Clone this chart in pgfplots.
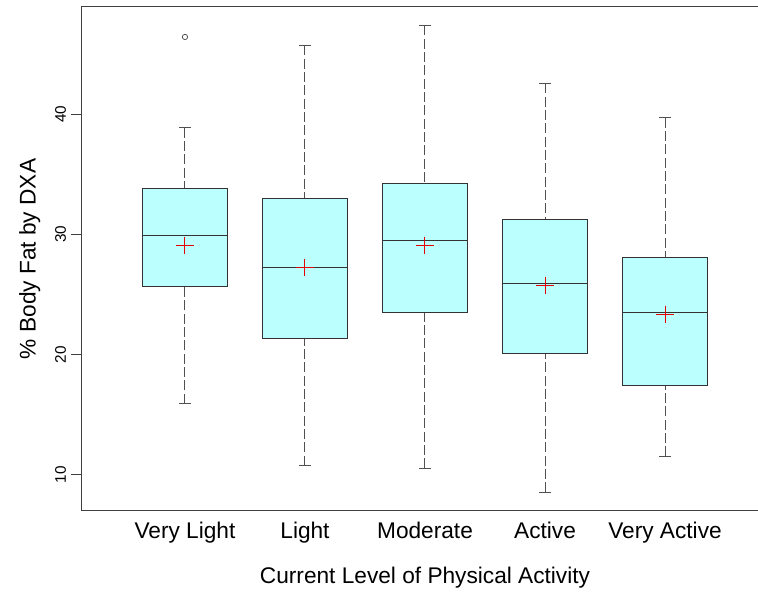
\documentclass[border=0pt]{standalone}
\usepackage{fontspec}
\setmainfont{Liberation Sans}
\usepackage{pgfplots}
\pgfplotsset{compat=1.18}
\usepgfplotslibrary{statistics}
\definecolor{boxfill}{RGB}{187,255,255}
\definecolor{boxline}{RGB}{51,51,51}
\definecolor{whisk}{RGB}{80,80,80}
\definecolor{meanred}{RGB}{230,0,0}
\pgfplotsset{
  mybox/.style={
    boxplot/draw direction=y,
    boxplot/box extend=0.71,
    boxplot/whisker extend=0.095,
    boxplot/every box/.style={draw=boxline, fill=boxfill, line width=0.75pt},
    boxplot/every median/.style={draw=boxline, line width=0.75pt},
    boxplot/every whisker/.style={draw=whisk, line width=0.75pt},
    boxplot/draw/lower whisker/.code={
      \draw[/pgfplots/boxplot/every whisker/.try, dash pattern=on 7.5pt off 2.5pt]
        (boxplot box cs:\pgfplotsboxplotvalue{lower whisker},0.5) --
        (boxplot box cs:\pgfplotsboxplotvalue{lower quartile},0.5);
      \draw[/pgfplots/boxplot/every whisker/.try, solid]
        (boxplot whisker cs:\pgfplotsboxplotvalue{lower whisker},0) --
        (boxplot whisker cs:\pgfplotsboxplotvalue{lower whisker},1);
    },
    boxplot/draw/upper whisker/.code={
      \draw[/pgfplots/boxplot/every whisker/.try, dash pattern=on 7.5pt off 2.5pt]
        (boxplot box cs:\pgfplotsboxplotvalue{upper whisker},0.5) --
        (boxplot box cs:\pgfplotsboxplotvalue{upper quartile},0.5);
      \draw[/pgfplots/boxplot/every whisker/.try, solid]
        (boxplot whisker cs:\pgfplotsboxplotvalue{upper whisker},0) --
        (boxplot whisker cs:\pgfplotsboxplotvalue{upper whisker},1);
    },
    mark=o, mark size=2pt, mark options={draw=whisk, line width=0.6pt, solid, fill=none},
  }
}
\begin{document}
\begin{tikzpicture}[x=1pt,y=1pt]
\useasboundingbox (-61.5,-63) rectangle (507,383.25);
\begin{axis}[
  at={(0,0)}, anchor=south west,
  scale only axis, width=514.5pt, height=378pt,
  xmin=0.142, xmax=5.858, ymin=7.007, ymax=48.90,
  axis line style={draw=black!75, line width=0.75pt},
  xtick={1,2,3,4,5},
  xticklabels={Very Light, Light, Moderate, Active, Very Active},
  ytick={10,20,30,40},
  tick align=outside,
  major tick length=8.25pt,
  x tick style={draw=none},
  y tick style={draw=black!75, line width=0.75pt},
  /pgf/number format/assume math mode=true,
  xticklabel style={font=\fontsize{17}{20}\selectfont, anchor=north, inner sep=0pt},
  yticklabel style={font=\fontsize{11.5}{13}\selectfont, rotate=90, anchor=south, inner sep=0pt, inner ysep=3.5pt},
  xlabel={Current Level of Physical Activity},
  ylabel={\% Body Fat by DXA},
  xlabel style={font=\fontsize{17}{20}\selectfont, at={(axis description cs:0.5,-0.1111)}, anchor=north, inner sep=0pt},
  ylabel style={font=\fontsize{17}{20}\selectfont, at={(axis description cs:-0.076,0.5)}, anchor=center, inner sep=0pt},
]
% Very Light
\addplot[mybox, boxplot prepared={draw position=1, lower whisker=15.93, lower quartile=25.69, median=29.93, upper quartile=33.80, upper whisker=38.87}]
  table[row sep=\\, y index=0] {data\\ 46.41\\};
% Light
\addplot[mybox, boxplot prepared={draw position=2, lower whisker=10.77, lower quartile=21.36, median=27.21, upper quartile=33.00, upper whisker=45.72}]
  coordinates {};
% Moderate
\addplot[mybox, boxplot prepared={draw position=3, lower whisker=10.56, lower quartile=23.49, median=29.50, upper quartile=34.19, upper whisker=47.38}]
  coordinates {};
% Active
\addplot[mybox, boxplot prepared={draw position=4, lower whisker=8.56, lower quartile=20.06, median=25.90, upper quartile=31.25, upper whisker=42.56}]
  coordinates {};
% Very Active
\addplot[mybox, boxplot prepared={draw position=5, lower whisker=11.55, lower quartile=17.42, median=23.52, upper quartile=28.10, upper whisker=39.70}]
  coordinates {};
% means
\addplot[meanred, only marks, mark=+, mark size=6.4pt, mark options={draw=meanred, line width=0.75pt}]
  coordinates {(1,29.06) (2,27.27) (3,29.10) (4,25.77) (5,23.36)};
\end{axis}
\end{tikzpicture}
\end{document}
